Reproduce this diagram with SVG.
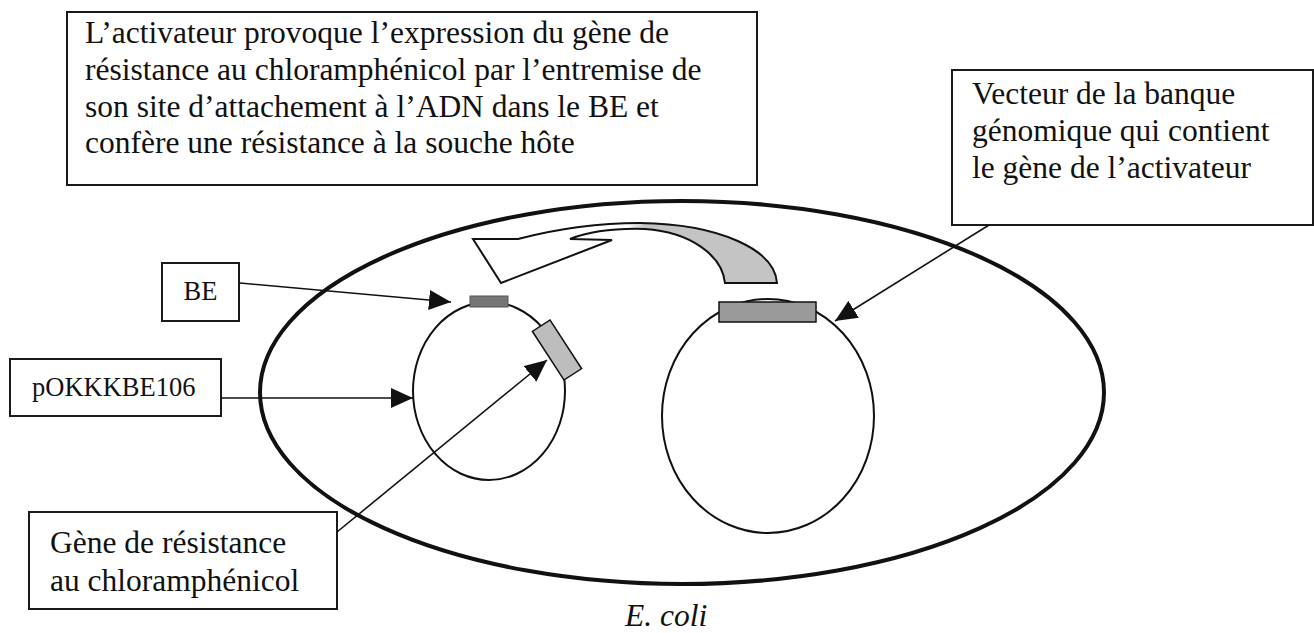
<svg xmlns="http://www.w3.org/2000/svg" width="1314" height="633" viewBox="0 0 1314 633">
  <defs>
    <style>
      .box { fill: #ffffff; stroke: #1a1a1a; stroke-width: 2; }
      .lbl { font-family: "Liberation Serif", "Times New Roman", serif; font-size: 31.5px; fill: #111111; }
      .tag { font-family: "Liberation Serif", "Times New Roman", serif; font-size: 26.5px; fill: #111111; }
      .conn { fill: none; stroke: #111111; stroke-width: 1.6; }
      .plasmid { fill: none; stroke: #111111; stroke-width: 2; }
    </style>
    <marker id="head" viewBox="0 0 22 20" refX="22" refY="10" markerWidth="22" markerHeight="20" markerUnits="userSpaceOnUse" orient="auto">
      <path d="M0,0 L22,10 L0,20 Z" fill="#111111"/>
    </marker>
    <linearGradient id="bandFill" gradientUnits="userSpaceOnUse" x1="628" y1="0" x2="645" y2="0">
      <stop offset="0" stop-color="#ffffff"/>
      <stop offset="1" stop-color="#c4c4c4"/>
    </linearGradient>
  </defs>

  <!-- host cell -->
  <g id="ecoli">
    <ellipse cx="682" cy="392.5" rx="422" ry="191.5" fill="none" stroke="#111111" stroke-width="4"/>
    <text class="lbl" x="625" y="626" font-style="italic">E. coli</text>
  </g>

  <!-- reporter plasmid with BE site and resistance gene -->
  <g id="pOKKKBE106-plasmid">
    <ellipse class="plasmid" cx="489" cy="391" rx="76" ry="89"/>
    <rect x="470" y="296" width="38" height="11" fill="#767676" stroke="#555555" stroke-width="1"/>
    <rect x="-10.5" y="-29" width="21" height="58" transform="translate(557,350) rotate(-33)" fill="#bdbdbd" stroke="#111111" stroke-width="1.5"/>
  </g>

  <!-- library vector carrying the activator gene -->
  <g id="library-vector">
    <ellipse class="plasmid" cx="768" cy="416" rx="106" ry="117"/>
    <rect x="719" y="302" width="97" height="20" fill="#9a9a9a" stroke="#111111" stroke-width="1.5"/>
  </g>

  <!-- curved arrow: activator acting on the BE -->
  <g id="activation-arrow">
    <path d="M473,239 L518,239 C560,228 600,223 640,223 C720,224 775,250 777,283 L725,283 C722,255 690,232 645,229 C612,228 588,232 570,239 L612,240 L501,283 Z" fill="url(#bandFill)" stroke="#111111" stroke-width="2" stroke-linejoin="miter"/>
  </g>

  <g id="note-activator">
    <rect class="box" x="67" y="12" width="690" height="173"/>
    <text class="lbl" x="85" y="43">L’activateur provoque l’expression du gène de</text>
    <text class="lbl" x="85" y="80">résistance au chloramphénicol par l’entremise de</text>
    <text class="lbl" x="85" y="117">son site d’attachement à l’ADN dans le BE et</text>
    <text class="lbl" x="85" y="153">confère une résistance à la souche hôte</text>
  </g>

  <g id="note-vector">
    <rect class="box" x="952" y="70" width="361" height="155"/>
    <text class="lbl" x="972" y="104">Vecteur de la banque</text>
    <text class="lbl" x="972" y="141">génomique qui contient</text>
    <text class="lbl" x="972" y="178">le gène de l’activateur</text>
  </g>

  <g id="label-BE">
    <rect class="box" x="162" y="263" width="77" height="58"/>
    <text class="tag" x="200.5" y="300" text-anchor="middle">BE</text>
  </g>

  <g id="label-pOKKKBE106">
    <rect class="box" x="10" y="359" width="211" height="57"/>
    <text class="tag" x="32" y="396">pOKKKBE106</text>
  </g>

  <g id="label-resistance-gene">
    <rect class="box" x="29" y="512" width="308" height="97"/>
    <text class="lbl" x="50" y="553">Gène de résistance</text>
    <text class="lbl" x="50" y="591">au chloramphénicol</text>
  </g>

  <!-- pointer lines -->
  <g id="connectors">
    <line class="conn" x1="240" y1="283" x2="451" y2="302" marker-end="url(#head)"/>
    <line class="conn" x1="221" y1="398" x2="413" y2="398" marker-end="url(#head)"/>
    <line class="conn" x1="337" y1="532" x2="547" y2="360" marker-end="url(#head)"/>
    <line class="conn" x1="989" y1="225" x2="835" y2="321" marker-end="url(#head)"/>
  </g>
</svg>
